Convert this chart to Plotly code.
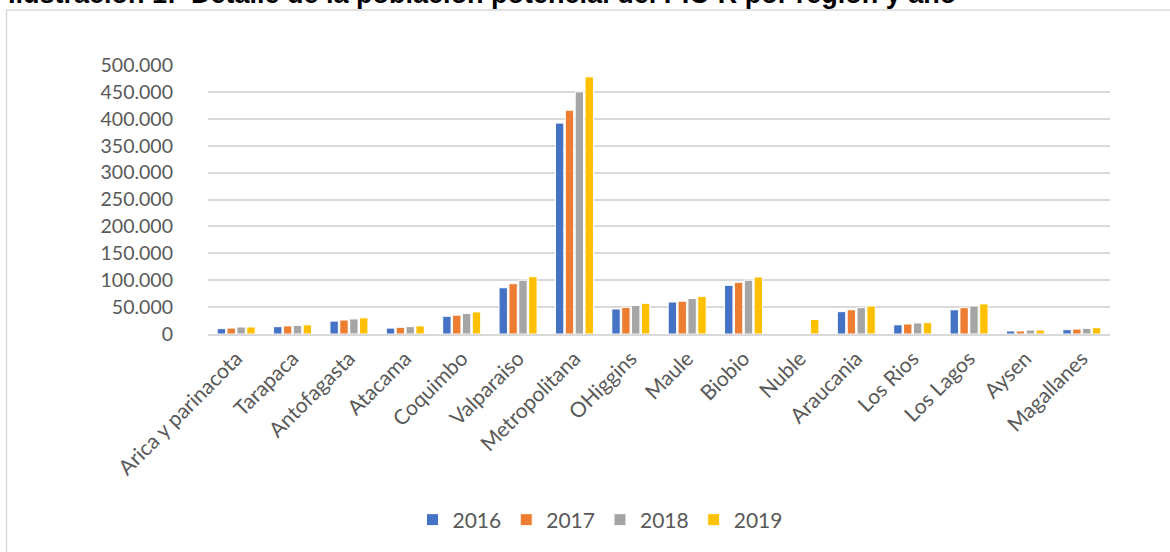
import plotly.graph_objects as go

regions = ["Arica y parinacota", "Tarapaca", "Antofagasta", "Atacama", "Coquimbo",
           "Valparaiso", "Metropolitana", "OHiggins", "Maule", "Biobio", "Nuble",
           "Araucania", "Los Rios", "Los Lagos", "Aysen", "Magallanes"]

v2016 = [10000, 13600, 24000, 11000, 33000, 86000, 392000, 46500, 59500, 90500, None, 41500, 17000, 45000, 5600, 8000]
v2017 = [11000, 15000, 26000, 12400, 35000, 93500, 416000, 49600, 61000, 96000, None, 45000, 18600, 49000, 5600, 9300]
v2018 = [13000, 16000, 28000, 13600, 38000, 100000, 450000, 53000, 66000, 100000, None, 49000, 20500, 52000, 7400, 10500]
v2019 = [13000, 17000, 30000, 15000, 41000, 106500, 478000, 57000, 70000, 106000, 27000, 52000, 21000, 56000, 7400, 11700]

years = ["2016", "2017", "2018", "2019"]
colors = ["#4472C4", "#ED7D31", "#A5A5A5", "#FFC000"]
series = [v2016, v2017, v2018, v2019]

title_text = "Ilustración 1:  Detalle de la población potencial del PIC-R por región y año"

FONT = "Lato, 'Open Sans', sans-serif"
fig = go.Figure()
for name, vals, col in zip(years, series, colors):
    fig.add_trace(go.Bar(
        x=regions, y=vals, name=name,
        marker=dict(color=col, line=dict(color="white", width=1)),
    ))

W, H = 1170, 552
L, R, T, B = 208, 60, 65, 218
pw, ph = W - L - R, H - T - B

def px_x(p):
    return (p - L) / pw

def px_y(p):
    return 1 - (p - T) / ph

fig.update_layout(
    width=W, height=H,
    margin=dict(l=L, r=R, t=T, b=B),
    paper_bgcolor="white", plot_bgcolor="white",
    barmode="group", bargap=0.3, bargroupgap=0.15,
    separators=",.",
    font=dict(family=FONT, color="#595959", size=18),
    showlegend=True,
    legend=dict(orientation="h", x=px_x(600), xanchor="center",
                y=px_y(520), yanchor="middle",
                font=dict(size=21, color="#595959"),
                itemwidth=30, traceorder="normal"),
    xaxis=dict(tickangle=-45, showgrid=False, showline=True,
               linecolor="#d9d9d9", linewidth=2,
               tickfont=dict(size=21, color="#595959"),
               ticklabelstandoff=2, automargin=False),
    yaxis=dict(range=[0, 500000], dtick=50000, tickformat=",d",
               showgrid=True, gridcolor="#d9d9d9", gridwidth=1.5,
               zeroline=False, showline=False,
               tickfont=dict(size=19.5, color="#595959"),
               ticklabelstandoff=34, automargin=False),
    shapes=[dict(type="rect", xref="paper", yref="paper",
                 x0=px_x(6.5), x1=px_x(1200), y0=px_y(600), y1=px_y(10),
                 line=dict(color="#d9d9d9", width=1.5), fillcolor="rgba(0,0,0,0)",
                 layer="below")],
    annotations=[dict(text="<b>" + title_text + "</b>", xref="paper", yref="paper",
                      x=px_x(6), xanchor="left", y=px_y(11), yanchor="bottom",
                      showarrow=False,
                      font=dict(family="Liberation Sans, Arial, sans-serif", size=27, color="black"))],
)

fig.write_html("out.html", config={"displayModeBar": False},
               post_script="document.body.style.margin='0';document.body.style.overflow='hidden';")
